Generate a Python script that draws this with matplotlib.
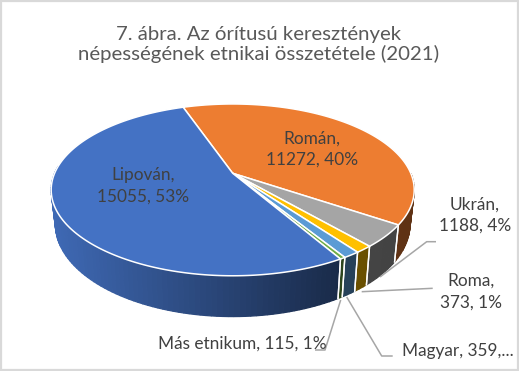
import numpy as np
import matplotlib
matplotlib.use("Agg")
import matplotlib.pyplot as plt
from matplotlib.patches import Polygon, Rectangle

title = "7. ábra. Az órítusú keresztények\nnépességének etnikai összetétele (2021)"
categories = ["Román", "Ukrán", "Roma", "Magyar", "Más etnikum", "Lipován"]
values = [11272, 1188, 373, 359, 115, 15055]
colors = ["#ED7D31", "#A5A5A5", "#FFC000", "#5B9BD5", "#70AD47", "#4472C4"]
labels = ["Román,\n11272, 40%", "Ukrán,\n1188, 4%", "Roma,\n373, 1%",
          "Magyar, 359,...", "Más etnikum, 115, 1%", "Lipován,\n15055, 53%"]

plt.rcParams['font.family'] = ['Lato', 'DejaVu Sans']
fig = plt.figure(figsize=(5.19, 3.71), dpi=100)
ax = fig.add_axes([0, 0, 1, 1])
ax.set_xlim(0, 519)
ax.set_ylim(371, 0)
ax.axis('off')

CX, AY, A, B, K = 232.7, 173.3, 178.1, 82.7, 0.193
A2, B2, AY2 = 174.0, 89.0, 206.3
START = -19.2


def top(t):
    u, v = np.sin(np.radians(t)), np.cos(np.radians(t))
    s = 1 / (1 + K * v)
    return CX + A * u * s, AY - B * v * s


def low(t):
    u, v = np.sin(np.radians(t)), np.cos(np.radians(t))
    s = 1 / (1 + K * v)
    return CX + A2 * u * s, AY2 - B2 * v * s


def shade(hexcol, x):
    f = np.interp(x, [51, 340, 345, 414], [0.92, 0.37, 0.42, 0.40])
    return tuple(c * f for c in matplotlib.colors.to_rgb(hexcol))


edges = START + np.concatenate([[0], np.cumsum(values)]) / sum(values) * 360

# walls
for i, col in enumerate(colors):
    a0, a1 = edges[i], edges[i + 1]
    lo, hi = max(a0, 90), min(a1, 275)
    if hi <= lo:
        continue
    ts = np.append(np.arange(lo, hi, 1.5), hi)
    for t0, t1 in zip(ts[:-1], ts[1:]):
        x0, y0 = top(t0); x1, y1 = top(t1)
        x2, y2 = low(t1); x3, y3 = low(t0)
        c = shade(col, (x0 + x1) / 2)
        ax.add_patch(Polygon([(x0, y0), (x1, y1), (x2, y2), (x3, y3)],
                             closed=True, facecolor=c, edgecolor=c, lw=0.9, zorder=2))
    for t in (a0, a1):
        if 90 < t < 275:
            x0, y0 = top(t); x1, y1 = low(t)
            ax.plot([x0, x1], [y0, y1], color='white', lw=1.0, zorder=3)

# top surface
for i, col in enumerate(colors):
    ts = np.linspace(edges[i], edges[i + 1], max(int(edges[i + 1] - edges[i]) * 2, 6))
    px, py = top(ts)
    pts = [(CX, AY)] + list(zip(px, py))
    ax.add_patch(Polygon(pts, closed=True, facecolor=col, edgecolor='white',
                         lw=1.1, joinstyle='round', zorder=4))

# leader lines
leaders = [
    ([436, 426.7, 380], [241.7, 241.7, 277]),
    ([432.7, 361.7], [288.3, 291.7]),
    ([392.7, 381.7, 346.7], [356, 356, 297]),
    ([315, 325, 340.7], [350, 350, 300]),
]
for lx, ly in leaders:
    ax.plot(lx, ly, color='#A6A6A6', lw=1.1, zorder=5, solid_capstyle='butt')

tc = '#404040'
pos = [(312, 149, 'center'), (475, 215, 'center'), (471, 291.5, 'center'),
       (402, 351, 'left'), (158, 344, 'left'), (143, 186, 'center')]
for lab, (x, y, ha) in zip(labels, pos):
    ax.text(x, y, lab, ha=ha, va='center', fontsize=12.4, color=tc, linespacing=1.42,
            multialignment='center', zorder=6)

ax.text(259, 44.5, title, ha='center', va='center', fontsize=14.7, color='#595959',
        linespacing=1.17, zorder=6)

ax.add_patch(Rectangle((1, 1), 516.5, 368.5, fill=False, edgecolor='#D9D9D9', lw=1.6, zorder=7))

fig.savefig("out.png", dpi=100)
